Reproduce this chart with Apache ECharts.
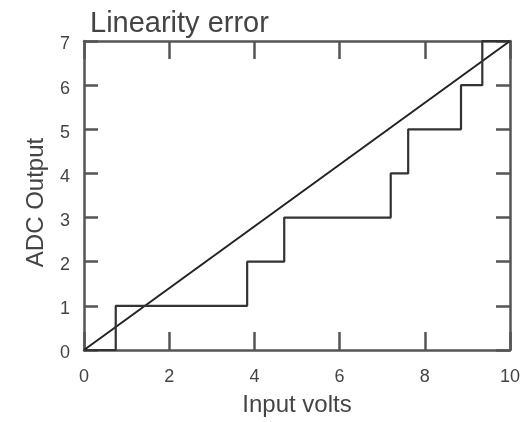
<!DOCTYPE html>
<html>
<head>
<meta charset="utf-8">
<script src="https://cdn.jsdelivr.net/npm/echarts@6/dist/echarts.min.js"></script>
<style>html,body{margin:0;padding:0;background:#fff;}#c{width:528px;height:422px;}</style>
</head>
<body>
<div id="c"></div>
<script>
// Data
var stepX = [0, 0.745, 3.83, 4.70, 7.20, 7.61, 8.85, 9.35, 10];
var stepLevels = [0, 1, 2, 3, 4, 5, 6, 7, 7];
var idealX = [0, 10];
var idealY = [0, 7];
var xTicks = [0, 2, 4, 6, 8, 10];
var yTicks = [0, 1, 2, 3, 4, 5, 6, 7];

var stepData = stepX.map(function (x, i) { return [x, stepLevels[i]]; });
var idealData = idealX.map(function (x, i) { return [x, idealY[i]]; });

var chart = echarts.init(document.getElementById('c'), null, { renderer: 'canvas' });
var font = 'Liberation Sans';
var axisCol = '#555';
var textCol = '#444';

function xAx(pos, showLabel) {
  return {
    type: 'value', position: pos, min: xTicks[0], max: xTicks[xTicks.length - 1], interval: 2,
    axisLine: { show: true, onZero: false, lineStyle: { color: axisCol, width: 2.5 } },
    axisTick: { show: true, inside: true, length: 18, lineStyle: { color: axisCol, width: 2.5 } },
    axisLabel: { show: showLabel, color: textCol, fontFamily: font, fontSize: 18, margin: 18 },
    splitLine: { show: false },
    name: showLabel ? 'Input volts' : '', nameLocation: 'middle', nameGap: 43,
    nameTextStyle: { color: textCol, fontFamily: font, fontSize: 24 }
  };
}
function yAx(pos, showLabel) {
  return {
    type: 'value', position: pos, min: yTicks[0], max: yTicks[yTicks.length - 1], interval: 1,
    axisLine: { show: true, onZero: false, lineStyle: { color: axisCol, width: 2.5 } },
    axisTick: { show: true, inside: true, length: 14, lineStyle: { color: axisCol, width: 2.5 } },
    axisLabel: { show: showLabel, color: textCol, fontFamily: font, fontSize: 18, margin: 14,
                 verticalAlign: 'top', lineHeight: 7 },
    splitLine: { show: false },
    name: showLabel ? 'ADC Output' : '', nameLocation: 'middle', nameGap: 36, nameRotate: 90,
    nameTextStyle: { color: textCol, fontFamily: font, fontSize: 24, padding: [0, 14, 0, 0] }
  };
}

chart.setOption({
  animation: false,
  backgroundColor: '#fff',
  title: {
    text: 'Linearity error', left: 85, top: 4,
    textStyle: { color: textCol, fontFamily: font, fontSize: 29, fontWeight: 'normal' }
  },
  grid: { left: 84, right: 18, top: 41, bottom: 71, containLabel: false },
  xAxis: [xAx('bottom', true), xAx('top', false)],
  yAxis: [yAx('left', true), yAx('right', false)],
  series: [
    {
      type: 'line', data: idealData, xAxisIndex: 0, yAxisIndex: 0,
      symbol: 'none', lineStyle: { color: '#222', width: 2 }
    },
    {
      type: 'line', data: stepData, xAxisIndex: 0, yAxisIndex: 0, step: 'end',
      symbol: 'none', lineStyle: { color: '#333', width: 2.2 }
    }
  ]
});
</script>
</body>
</html>
